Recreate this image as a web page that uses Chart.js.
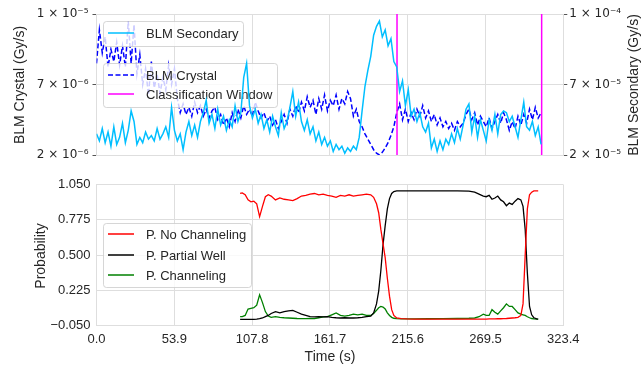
<!DOCTYPE html>
<html>
<head>
<meta charset="utf-8">
<script src="https://cdn.jsdelivr.net/npm/chart.js"></script>
<style>
html, body { margin: 0; padding: 0; background: #fff; }
#wrap { position: relative; width: 642px; height: 371px; overflow: hidden; }
canvas { position: absolute; left: 0; }
#topChart { top: 0; }
#bottomChart { top: 170px; }
</style>
</head>
<body>
<div id="wrap">
    <canvas id="topChart" width="642" height="170"></canvas>
    <canvas id="bottomChart" width="642" height="201"></canvas>
</div>
<script>
// BLM readings, one sample every 2 s starting at t = 0
const sampleStep = 2;
// BLM Secondary, in units of 1e-5 Gy/s
const blmSecondary = [
    3.2, 2.8, 3.5, 2.7, 3.3, 2.5, 3.6, 2.6, 3.0, 3.8,
    2.7, 3.4, 4.5, 3.9, 2.6, 3.0, 2.7, 3.3, 2.9, 3.1,
    2.8, 3.5, 2.9, 3.2, 3.6, 3.0, 4.7, 3.4, 2.8, 3.2,
    2.3, 3.3, 3.9, 3.1, 3.7, 3.0, 3.9, 4.4, 5.1, 3.8,
    4.3, 3.5, 4.6, 3.7, 4.2, 3.4, 4.0, 3.6, 4.8, 3.9,
    4.4, 6.4, 7.2, 4.8, 4.1, 4.6, 3.8, 4.3, 3.5, 4.0,
    3.3, 4.2, 3.6, 3.1, 4.4, 3.5, 3.9, 4.7, 5.6, 4.2,
    5.0, 3.9, 3.4, 4.0, 3.2, 3.6, 2.8, 3.3, 2.6, 3.0,
    2.5, 2.8, 2.2, 2.6, 2.3, 2.5, 2.1, 2.4, 2.2, 2.5,
    2.3, 3.0, 4.5, 5.9, 6.8, 7.6, 8.8, 9.3, 9.6, 8.7,
    9.1, 8.2, 8.6, 7.3, 7.0, 5.6, 6.2, 4.8, 5.7, 4.2,
    4.6, 3.9, 4.4, 3.6, 3.3, 3.8, 2.4, 2.9, 2.2, 2.8,
    2.3, 2.9, 2.6, 3.2, 2.7, 3.5, 2.9, 3.7, 4.6, 4.9,
    3.3, 4.2, 3.0, 4.0, 3.4, 2.8, 4.0, 3.4, 4.3, 3.2,
    4.3, 4.5, 4.4, 3.9, 4.2, 3.6, 3.0, 4.0, 5.0, 3.6,
    3.4, 3.9, 3.1, 3.6, 2.6
];
// BLM Crystal, in units of 1e-6 Gy/s
const blmCrystal = [
    7.2, 9.1, 7.8, 8.7, 7.0, 8.0, 7.3, 8.4, 7.1, 8.2,
    7.0, 9.6, 7.2, 9.4, 6.6, 7.7, 6.0, 6.9, 5.4, 7.3,
    5.8, 6.6, 5.5, 6.4, 5.7, 7.1, 6.0, 6.9, 5.2, 4.4,
    4.9, 4.3, 4.7, 4.2, 5.0, 4.4, 4.8, 4.2, 4.6, 4.1,
    4.5, 4.7, 4.0, 4.3, 3.7, 4.1, 3.6, 4.4, 3.9, 4.6,
    4.1, 4.8, 4.3, 4.6, 4.2, 5.0, 4.5, 4.1, 4.4, 3.9,
    4.2, 3.7, 4.0, 3.5, 3.9, 4.3, 3.8, 4.6, 4.2, 4.8,
    4.4, 5.0, 4.5, 5.3, 4.7, 5.1, 4.3, 5.2, 4.6, 5.4,
    4.5, 5.1, 4.8, 5.4, 4.6, 5.2, 4.9, 5.6, 5.2, 4.2,
    4.6, 3.9, 3.6, 3.2, 2.9, 2.6, 2.3, 2.1, 2.0, 2.15,
    2.4, 2.7, 3.1, 3.6, 4.4, 4.9, 4.0, 4.6, 3.9, 4.4,
    4.0, 4.6, 4.2, 4.8, 4.1, 4.5, 3.9, 4.3, 3.7, 4.1,
    3.6, 3.9, 3.5, 3.8, 3.4, 3.9, 3.6, 3.8, 4.3, 4.6,
    4.0, 4.4, 3.7, 4.2, 3.9, 3.6, 4.1, 3.5, 3.9, 4.3,
    3.8, 4.4, 4.0, 3.4, 3.9, 3.5, 4.2, 3.7, 4.3, 3.8,
    4.6, 4.0, 4.7, 4.1, 4.4
];
const windowEdges = [208.2, 308.4];

const timeTicks = [0, 53.9, 107.8, 161.7, 215.6, 269.5, 323.4];
const timeTickLabels = ['0.0', '53.9', '107.8', '161.7', '215.6', '269.5', '323.4'];
const crystalTicks = [2e-6, 6e-6, 1e-5];
const crystalTickLabels = ['2 × 10⁻⁶', '7 × 10⁻⁶', '1 × 10⁻⁵'];
const secondaryTicks = [2e-5, 6e-5, 1e-4];
const secondaryTickLabels = ['2 × 10⁻⁵', '7 × 10⁻⁵', '1 × 10⁻⁴'];

// classifier output
const probTime = [
    99.5, 101, 103, 105, 107, 109, 111, 113, 115, 117,
    119, 121, 124, 127, 130, 133, 136, 139, 142, 145,
    148, 151, 154, 157, 160, 163, 166, 169, 172, 175,
    178, 181, 184, 187, 190, 192, 194, 195.5, 197, 198.5,
    200, 201.5, 203, 204.5, 206, 208, 211, 215, 220, 230,
    240, 250, 258, 262, 265, 268, 270, 272, 274, 276,
    278, 280, 282, 284, 286, 288, 290, 292, 294, 295.5,
    297, 298.5, 300, 301.5, 303, 305, 306
];
const pNoChanneling = [
    0.98, 0.985, 0.97, 0.93, 0.915, 0.92, 0.90, 0.80, 0.88, 0.955,
    0.97, 0.96, 0.93, 0.945, 0.935, 0.93, 0.925, 0.94, 0.96, 0.965,
    0.975, 0.98, 0.97, 0.975, 0.965, 0.96, 0.95, 0.965, 0.96, 0.97,
    0.96, 0.965, 0.97, 0.975, 0.97, 0.95, 0.90, 0.83, 0.70, 0.59,
    0.48, 0.32, 0.18, 0.075, 0.03, 0.01, 0.005, 0.003, 0.002, 0.002,
    0.002, 0.002, 0.002, 0.002, 0.002, 0.002, 0.002, 0.003, 0.003, 0.003,
    0.004, 0.004, 0.005, 0.006, 0.008, 0.01, 0.012, 0.015, 0.03, 0.12,
    0.50, 0.86, 0.97, 0.99, 1.0, 1.0, 1.0
];
const pPartialWell = [
    0.0, 0.0, 0.0, 0.0, 0.0, 0.0, 0.002, 0.005, 0.01, 0.02,
    0.03, 0.045, 0.06, 0.05, 0.06, 0.065, 0.07, 0.055, 0.04, 0.03,
    0.02, 0.018, 0.02, 0.018, 0.02, 0.015, 0.012, 0.01, 0.012, 0.01,
    0.01, 0.012, 0.015, 0.02, 0.025, 0.05, 0.12, 0.22, 0.38, 0.58,
    0.73, 0.86, 0.94, 0.98, 0.995, 1.0, 1.0, 1.0, 1.0, 1.0,
    1.0, 1.0, 0.998, 0.99, 0.975, 0.96, 0.955, 0.965, 0.935, 0.945,
    0.96, 0.93, 0.915, 0.885, 0.905, 0.895, 0.92, 0.94, 0.93, 0.88,
    0.70, 0.36, 0.10, 0.035, 0.012, 0.004, 0.002
];
const pChanneling = [
    0.02, 0.02, 0.03, 0.08, 0.085, 0.09, 0.11, 0.19, 0.13, 0.06,
    0.025, 0.015, 0.02, 0.015, 0.012, 0.01, 0.008, 0.006, 0.005, 0.005,
    0.006, 0.005, 0.012, 0.018, 0.02, 0.035, 0.05, 0.03, 0.025, 0.03,
    0.04, 0.035, 0.04, 0.03, 0.03, 0.045, 0.07, 0.09, 0.10, 0.095,
    0.08, 0.05, 0.03, 0.015, 0.008, 0.005, 0.003, 0.003, 0.003, 0.004,
    0.005, 0.006, 0.008, 0.01, 0.02, 0.04, 0.03, 0.03, 0.075, 0.055,
    0.04, 0.065, 0.09, 0.12, 0.10, 0.10, 0.075, 0.05, 0.04, 0.035,
    0.03, 0.02, 0.012, 0.006, 0.003, 0.002, 0.002
];
const probTicks = [-0.05, 0.225, 0.5, 0.775, 1.05];
const probTickLabels = ['−0.050', '0.225', '0.500', '0.775', '1.050'];

const GRID = '#dedede';
const TXT = '#262626';
const SANS = "'Liberation Sans', Arial, Helvetica, sans-serif";
Chart.defaults.font.family = SANS;
Chart.defaults.color = TXT;

const fixTicks = values => scale => { scale.ticks = values.map(v => ({ value: v })); };
const labelFrom = labels => (v, i) => labels[i];

function drawLegend(ctx, box, items) {
    ctx.save();
    ctx.beginPath();
    if (ctx.roundRect) ctx.roundRect(box.x + 0.5, box.y + 0.5, box.w, box.h, 3);
    else ctx.rect(box.x + 0.5, box.y + 0.5, box.w, box.h);
    ctx.fillStyle = 'rgba(255,255,255,0.8)';
    ctx.fill();
    ctx.strokeStyle = 'rgba(204,204,204,0.8)';
    ctx.lineWidth = 1;
    ctx.stroke();
    ctx.font = '13px ' + SANS;
    ctx.textBaseline = 'middle';
    ctx.fillStyle = TXT;
    items.forEach(it => {
        ctx.beginPath();
        ctx.setLineDash(it.dash || []);
        ctx.strokeStyle = it.color;
        ctx.lineWidth = 1.5;
        ctx.moveTo(box.x + 5, it.y);
        ctx.lineTo(box.x + 31, it.y);
        ctx.stroke();
        ctx.setLineDash([]);
        ctx.fillText(it.label, box.x + 43, it.y + 1);
    });
    ctx.restore();
}

function axisTitle(ctx, text, x, y, rotate) {
    ctx.save();
    ctx.font = '14px ' + SANS;
    ctx.fillStyle = TXT;
    ctx.textAlign = 'center';
    ctx.textBaseline = 'middle';
    ctx.translate(x, y);
    if (rotate) ctx.rotate(-Math.PI / 2);
    ctx.fillText(text, 0, 0);
    ctx.restore();
}

// ── Top: BLM signals ────────────────────────────────
const topOverlay = {
    id: 'topOverlay',
    afterDatasetDraw(chart, args) {
        if (args.index !== 2) return;
        drawLegend(chart.ctx, { x: 103, y: 63, w: 174, h: 44 }, [
            { label: 'BLM Crystal', color: '#0000ff', dash: [5, 2.5], y: 75 },
            { label: 'Classification Window', color: '#ff00ff', y: 94 }
        ]);
    },
    afterDatasetsDraw(chart) {
        drawLegend(chart.ctx, { x: 103, y: 21, w: 140, h: 25 }, [
            { label: 'BLM Secondary', color: '#00bfff', y: 33 }
        ]);
    },
    afterDraw(chart) {
        axisTitle(chart.ctx, 'BLM Crystal (Gy/s)', 20, 85, true);
        axisTitle(chart.ctx, 'BLM Secondary (Gy/s)', 634, 85, true);
    }
};

new Chart(document.getElementById('topChart'), {
    type: 'line',
    data: {
        datasets: [
            {
                label: 'BLM Secondary',
                data: blmSecondary.map((v, i) => ({ x: i * sampleStep, y: v * 1e-5 })),
                yAxisID: 'y2',
                borderColor: '#00bfff',
                borderWidth: 1.5,
                order: 1
            },
            {
                label: 'BLM Crystal',
                data: blmCrystal.map((v, i) => ({ x: i * sampleStep, y: v * 1e-6 })),
                yAxisID: 'y',
                borderColor: '#0000ff',
                borderDash: [5, 2.5],
                borderWidth: 1.5,
                order: 3
            },
            {
                label: 'Classification Window',
                data: windowEdges.flatMap(t => [
                    { x: t, y: crystalTicks[0] },
                    { x: t, y: crystalTicks[2] },
                    { x: t, y: null }
                ]),
                yAxisID: 'y',
                borderColor: '#ff00ff',
                borderWidth: 1.5,
                order: 2
            }
        ]
    },
    options: {
        responsive: false,
        animation: false,
        layout: { padding: { top: 14 } },
        elements: { point: { radius: 0 }, line: { tension: 0 } },
        plugins: { legend: { display: false }, tooltip: { enabled: false } },
        scales: {
            x: {
                type: 'linear', min: 0, max: 323.4,
                afterBuildTicks: fixTicks(timeTicks),
                ticks: { display: false },
                grid: { color: GRID, drawTicks: false },
                border: { color: GRID },
                afterFit: s => { s.height = 15; }
            },
            y: {
                type: 'linear', position: 'left', min: crystalTicks[0], max: crystalTicks[2],
                afterBuildTicks: fixTicks(crystalTicks),
                ticks: { callback: labelFrom(crystalTickLabels), padding: 4, font: { family: "'DejaVu Sans'", size: 12 } },
                grid: { color: GRID, tickLength: 4, tickColor: '#555' },
                border: { color: GRID },
                afterFit: s => { s.width = 96.5; }
            },
            y2: {
                type: 'linear', position: 'right', min: secondaryTicks[0], max: secondaryTicks[2],
                afterBuildTicks: fixTicks(secondaryTicks),
                ticks: { callback: labelFrom(secondaryTickLabels), padding: 2, font: { family: "'DejaVu Sans'", size: 12 } },
                grid: { drawOnChartArea: false, tickLength: 4, tickColor: '#555' },
                border: { color: GRID },
                afterFit: s => { s.width = 78.7; }
            }
        }
    },
    plugins: [topOverlay]
});

// ── Bottom: class probabilities ─────────────────────
const bottomOverlay = {
    id: 'bottomOverlay',
    afterDatasetsDraw(chart) {
        drawLegend(chart.ctx, { x: 103, y: 53, w: 148, h: 64 }, [
            { label: 'P. No Channeling', color: '#ff0000', y: 64 },
            { label: 'P. Partial Well', color: '#000000', y: 85 },
            { label: 'P. Channeling', color: '#008000', y: 105 }
        ]);
    },
    afterDraw(chart) {
        axisTitle(chart.ctx, 'Probability', 41, 86, true);
        axisTitle(chart.ctx, 'Time (s)', 330, 187, false);
    }
};

const probSeries = (vals, color) => ({
    data: vals.map((v, i) => ({ x: probTime[i], y: v })),
    borderColor: color,
    borderWidth: 1.3
});

new Chart(document.getElementById('bottomChart'), {
    type: 'line',
    data: {
        datasets: [
            { label: 'P. No Channeling', ...probSeries(pNoChanneling, '#ff0000') },
            { label: 'P. Partial Well', ...probSeries(pPartialWell, '#000000') },
            { label: 'P. Channeling', ...probSeries(pChanneling, '#008000') }
        ]
    },
    options: {
        responsive: false,
        animation: false,
        layout: { padding: { top: 14.5, right: 78.7 } },
        elements: { point: { radius: 0 }, line: { tension: 0 } },
        plugins: { legend: { display: false }, tooltip: { enabled: false } },
        scales: {
            x: {
                type: 'linear', min: 0, max: 323.4,
                afterBuildTicks: fixTicks(timeTicks),
                ticks: { callback: labelFrom(timeTickLabels), autoSkip: false, maxRotation: 0, padding: 6, font: { size: 13 } },
                grid: { color: GRID, drawTicks: false },
                border: { color: GRID },
                afterFit: s => { s.height = 45.3; }
            },
            y: {
                type: 'linear', min: -0.05, max: 1.05,
                afterBuildTicks: fixTicks(probTicks),
                ticks: { callback: labelFrom(probTickLabels), padding: 6, font: { size: 13 } },
                grid: { color: GRID, drawTicks: false },
                border: { color: GRID },
                afterFit: s => { s.width = 96.5; }
            }
        }
    },
    plugins: [bottomOverlay]
});
</script>
</body>
</html>
